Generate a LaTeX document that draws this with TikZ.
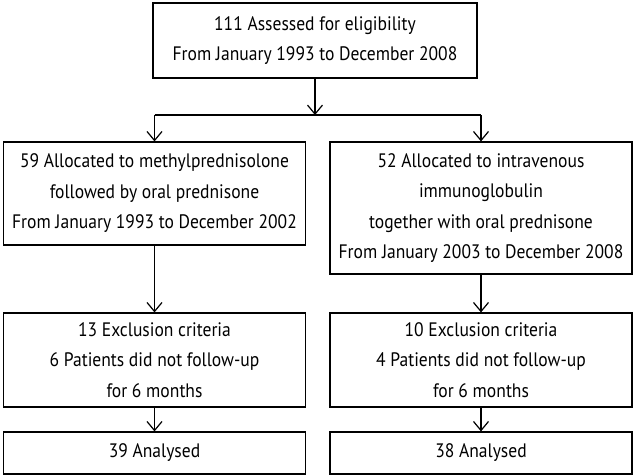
\documentclass[tikz,border=0pt]{standalone}
\usepackage{fontspec}
\setmainfont{PT Sans}[FakeStretch=0.9]
\usetikzlibrary{arrows.meta}
\tikzset{box/.style={draw=black, line width=1.2pt, align=center, inner sep=0pt,
font=\fontsize{19.5}{30.5}\selectfont},
%left and right columns have the same width
col/.style={box, minimum width=302pt},
arrow/.style={line width=1.2pt, -{Straight Barb[length=9pt,width=15pt]}}}

\begin{document}
\begin{tikzpicture}[x=1pt,y=-1pt]
\useasboundingbox (0,0) rectangle (633,475);

\node[box, minimum width=324pt, minimum height=75pt] (top) at (315,40.5)
  {111 Assessed for eligibility\\From January 1993 to December 2008};

\node[col, minimum height=103pt] (m1) at (154.5,193.5)
  {59 Allocated to methylprednisolone\\followed by oral prednisone\\From January 1993 to December 2002};
\node[col, minimum height=132pt] (m2) at (481,208)
  {52 Allocated to intravenous\\immunoglobulin\\together with oral prednisone\\From January 2003 to December 2008};

\node[col, minimum height=94pt] (ex1) at (154.5,360)
  {13 Exclusion criteria\\6 Patients did not follow-up\\for 6 months};
\node[col, minimum height=94pt] (ex2) at (481,360)
  {10 Exclusion criteria\\4 Patients did not follow-up\\for 6 months};

\node[col, minimum height=42pt] (an1) at (154.5,453) {39 Analysed};
\node[col, minimum height=42pt] (an2) at (481,453) {38 Analysed};

\coordinate (j) at (315,115);
\coordinate (jl) at (154.5,115);
\coordinate (jr) at (481,115);

\draw[arrow] (top) -- (j);
\draw[line width=1.2pt] (jl) -- (jr);

\foreach \a/\b in {jl/m1, jr/m2, m1/ex1, m2/ex2, ex1/an1, ex2/an2}
    \draw[arrow] (\a) -- (\b);

\end{tikzpicture}
\end{document}
